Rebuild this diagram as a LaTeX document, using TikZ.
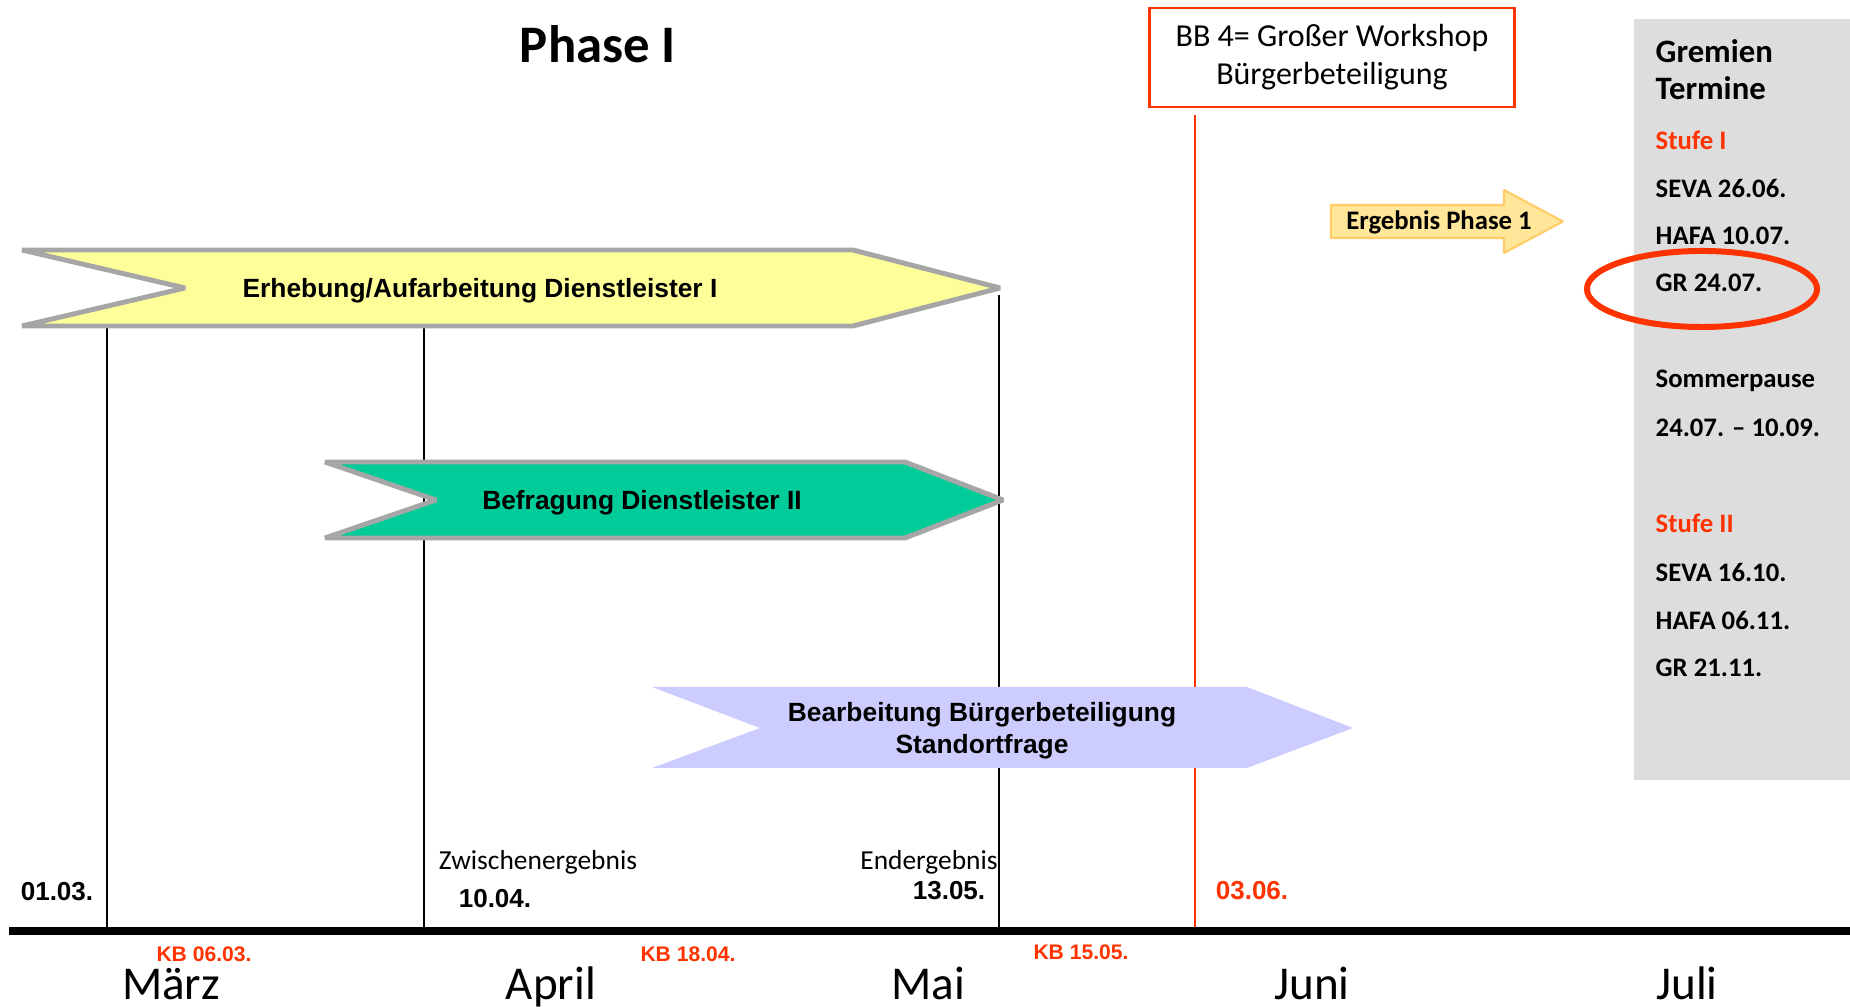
\documentclass[tikz,border=0pt]{standalone}
\usepackage{fontspec}
\setmainfont{Carlito}
\newfontfamily\arialfont{Liberation Sans}
\definecolor{kbred}{RGB}{255,51,0}
\definecolor{barborder}{RGB}{166,166,166}
\definecolor{barone}{RGB}{255,255,153}
\definecolor{bartwo}{RGB}{0,204,153}
\definecolor{barthree}{RGB}{204,204,255}
\definecolor{ergfill}{RGB}{255,230,153}
\definecolor{ergdraw}{RGB}{255,204,102}
\definecolor{panelgray}{RGB}{221,221,221}
\begin{document}
\begin{tikzpicture}[x=0.01cm, y=-0.01cm,
    barlabel/.style={font=\arialfont\bfseries\fontsize{7.5}{9.1}\selectfont, align=center},
    barshape/.style={draw=barborder, line width=1.4pt, miter limit=1.4},
    datelabel/.style={font=\arialfont\bfseries\fontsize{7.4}{9}\selectfont},
    kblabel/.style={font=\arialfont\bfseries\fontsize{6}{7}\selectfont, text=kbred},
    monthlabel/.style={font=\fontsize{13.4}{16}\selectfont, anchor=base},
    termin/.style={font=\bfseries\fontsize{7.6}{9}\selectfont, anchor=west, inner sep=0pt}]
    \useasboundingbox (0,0) rectangle (1850,1007);
    \fill[panelgray] (1634,19) rectangle (1850,780);
    \node[font=\bfseries\fontsize{15}{18}\selectfont] (phase) at (598,44) {Phase I};
    \node[draw=kbred, line width=0.8pt, minimum width=3.64cm, minimum height=0.99cm, align=center,
        font=\fontsize{9.1}{10.8}\selectfont] (bb) at (1332,57.5) {BB 4= Großer Workshop\\Bürgerbeteiligung};
    \coordinate (tl0) at (9,931);
    \coordinate (tl1) at (1850,931);
    \coordinate (bbfoot) at (1195,115);
    \coordinate (s0103) at (107,328);
    \coordinate (s1004) at (424,328);
    \coordinate (s1305) at (999,295);
    \draw[kbred, line width=0.5pt] (bbfoot) -- (bbfoot |- tl0);
    \draw[line width=0.5pt] (s0103) -- (s0103 |- tl0);
    \draw[line width=0.5pt] (s1004) -- (s1004 |- tl0);
    \draw[line width=0.5pt] (s1305) -- (s1305 |- tl0);
    \draw[line width=2.3pt] (tl0) -- (tl1);
    \filldraw[barshape, fill=barone] (22,250) -- (853,250) -- (1000,288) -- (853,326) -- (22,326) -- (185,288) -- cycle;
    \node[barlabel] (erhebung) at (480,291) {Erhebung/Aufarbeitung Dienstleister I};
    \filldraw[barshape, fill=bartwo] (325,462) -- (905,462) -- (1003,500) -- (905,538) -- (325,538) -- (436,500) -- cycle;
    \node[barlabel] (befragung) at (642,503) {Befragung Dienstleister II};
    \fill[barthree] (652,687) -- (1247,687) -- (1353,728) -- (1247,768) -- (652,768) -- (760,728) -- cycle;
    \node[barlabel] (bearbeitung) at (982,731) {Bearbeitung Bürgerbeteiligung\\Standortfrage};
    \filldraw[fill=ergfill, draw=ergdraw, line width=0.6pt, miter limit=1.4] (1331,205) -- (1504,205) -- (1504,190) -- (1563,221.5) -- (1504,253) -- (1504,238) -- (1331,238) -- cycle;
    \node[font=\bfseries\fontsize{7.6}{9}\selectfont] (ergebnis) at (1439,222) {Ergebnis Phase 1};
    \node[termin, font=\bfseries\fontsize{9.3}{11}\selectfont] (gremien) at (1655,51) {Gremien};
    \node[termin, font=\bfseries\fontsize{9.3}{11}\selectfont] (termine) at (1655,88) {Termine};
    \node[termin, text=kbred] (stufe1) at (1655,140) {Stufe I};
    \node[termin] (seva1) at (1655,188) {SEVA 26.06.};
    \node[termin] (hafa1) at (1655,236) {HAFA 10.07.};
    \node[termin] (gr1) at (1655,283) {GR 24.07.};
    \node[termin] (sommer) at (1655,381) {Sommerpause};
    \node[termin] (pause) at (1655,428) {24.07. -- 10.09.};
    \node[termin, text=kbred] (stufe2) at (1655,523) {Stufe II};
    \node[termin] (seva2) at (1655,572) {SEVA 16.10.};
    \node[termin] (hafa2) at (1655,620) {HAFA 06.11.};
    \node[termin] (gr2) at (1655,668) {GR 21.11.};
    \draw[kbred, line width=1.7pt] (1702,289) ellipse [x radius=1.15cm, y radius=0.38cm];
    \node[datelabel] (d0103) at (57,892) {01.03.};
    \node[font=\fontsize{7.8}{9}\selectfont] (zwischen) at (538,862) {Zwischenergebnis};
    \node[datelabel] (d1004) at (495,899) {10.04.};
    \node[font=\fontsize{7.8}{9}\selectfont] (ender) at (929,862) {Endergebnis};
    \node[datelabel] (d1305) at (949,891) {13.05.};
    \node[datelabel, text=kbred] (d0306) at (1252,891) {03.06.};
    \node[kblabel] (kb1) at (204,954) {KB 06.03.};
    \node[kblabel] (kb2) at (688,954) {KB 18.04.};
    \node[kblabel] (kb3) at (1081,952) {KB 15.05.};
    \node[monthlabel] (maerz) at (171,1000) {März};
    \node[monthlabel] (april) at (551,1000) {April};
    \node[monthlabel] (mai) at (928,1000) {Mai};
    \node[monthlabel] (juni) at (1312,1000) {Juni};
    \node[monthlabel] (juli) at (1687,1000) {Juli};
\end{tikzpicture}
\end{document}
